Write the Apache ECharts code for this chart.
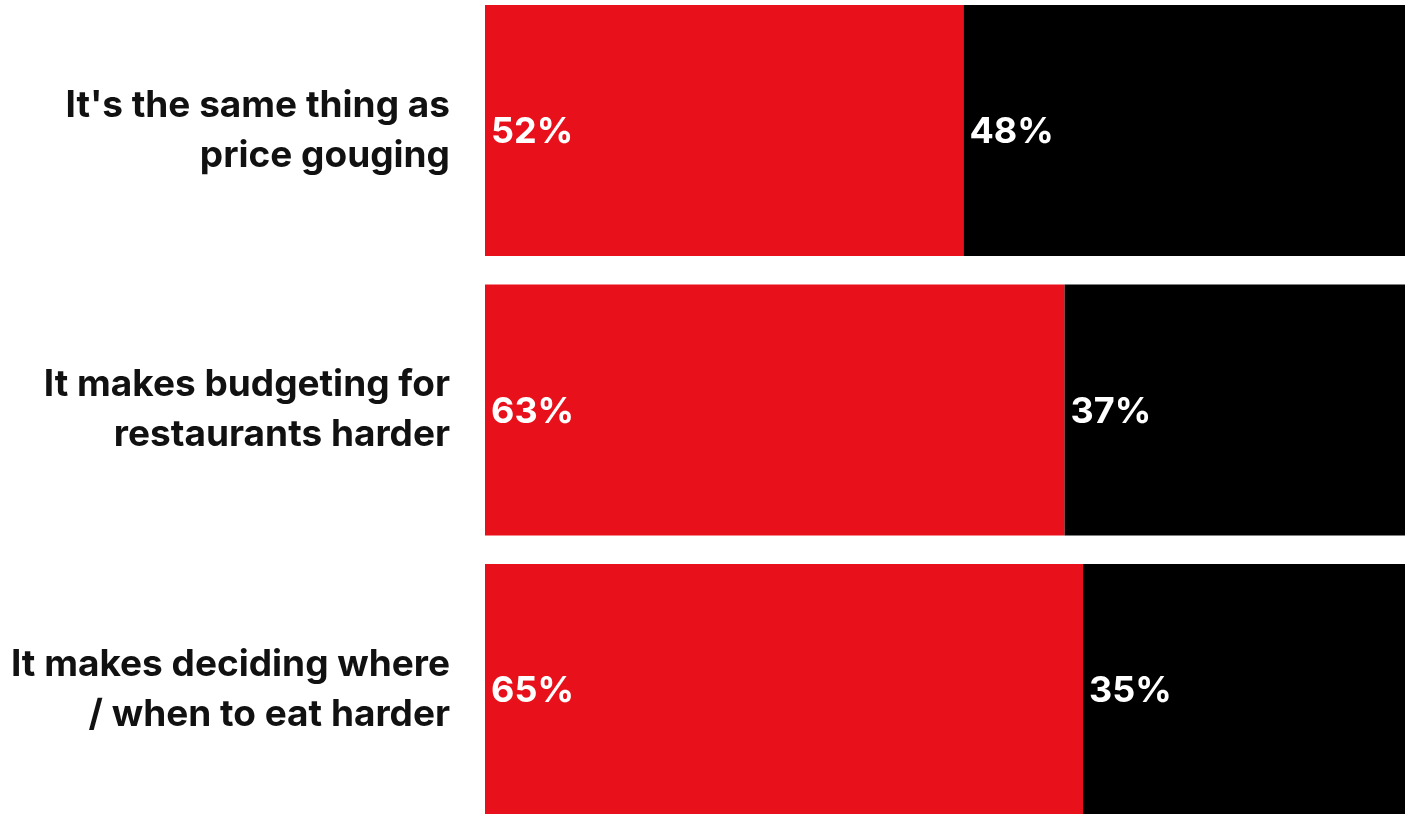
<!DOCTYPE html>
<html><head><meta charset="utf-8">
<script src="https://cdn.jsdelivr.net/npm/echarts@6/dist/echarts.min.js"></script>
<style>html,body{margin:0;padding:0;background:#fff}#c{width:1409px;height:814px}</style>
</head><body><div id="c"></div>
<script>
const categories = ["It's the same thing as\nprice gouging", "It makes budgeting for\nrestaurants harder", "It makes deciding where\n/ when to eat harder"];
const agreeValues = [52, 63, 65];
const disagreeValues = [48, 37, 35];

const chart = echarts.init(document.getElementById('c'));
const lbl = {show:true, position:'insideLeft', distance:6, offset:[0,2], color:'#fff', fontFamily:'Inter', fontWeight:'bold', fontSize:36, formatter:p=>p.value+'%'};
chart.setOption({
  animation:false,
  grid:{left:485, right:4, top:-9.25, bottom:-15.25, containLabel:false, outerBoundsMode:'none'},
  xAxis:{type:'value', min:0, max:100, show:false},
  yAxis:{type:'category', data:categories, inverse:true, axisLine:{show:false}, axisTick:{show:false},
    axisLabel:{margin:35, color:'#111', fontFamily:'Inter', fontWeight:'bold', fontSize:37, lineHeight:50, align:'right', padding:[6,0,0,0]}},
  series:[
    {type:'bar', stack:'a', data:agreeValues, barWidth:251, itemStyle:{color:'#E8111B'}, label:lbl},
    {type:'bar', stack:'a', data:disagreeValues, barWidth:251, itemStyle:{color:'#000'}, label:lbl}
  ]
});
</script></body></html>
